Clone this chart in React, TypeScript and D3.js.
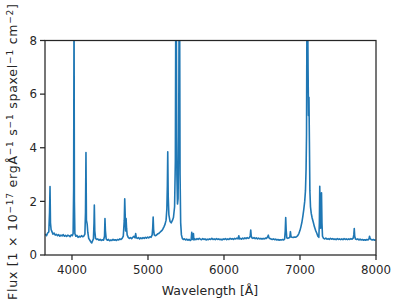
import * as d3 from "d3";
import React from "react";

// spectrum (wavelength in Å, flux in 1e-17 units)
const wavelength = [
  3650, 3665, 3680, 3695, 3705, 3711, 3717, 3725, 3735, 3750, 3765, 3780, 3795, 3810, 3825, 3840, 3855, 3870, 3885, 3900,
  3915, 3930, 3945, 3960, 3975, 3990, 4005, 4015, 4022, 4027, 4032, 4038, 4050, 4065, 4080, 4095, 4110, 4125, 4140, 4155,
  4170, 4178, 4184, 4190, 4200, 4208, 4220, 4235, 4250, 4260, 4270, 4282, 4290, 4294, 4300, 4310, 4325, 4340, 4355, 4370,
  4385, 4400, 4415, 4428, 4434, 4440, 4450, 4465, 4480, 4495, 4510, 4525, 4540, 4555, 4570, 4585, 4600, 4615, 4630, 4645,
  4660, 4675, 4688, 4694, 4700, 4706, 4712, 4718, 4726, 4740, 4755, 4770, 4785, 4800, 4815, 4830, 4838, 4846, 4860, 4875,
  4890, 4905, 4920, 4935, 4950, 4965, 4980, 4995, 5010, 5025, 5040, 5055, 5062, 5068, 5074, 5082, 5095, 5110, 5125, 5140,
  5155, 5170, 5185, 5198, 5210, 5225, 5238, 5248, 5255, 5260, 5266, 5275, 5290, 5305, 5320, 5335, 5350, 5360, 5366, 5372,
  5380, 5388, 5396, 5404, 5410, 5416, 5422, 5430, 5440, 5452, 5465, 5480, 5495, 5510, 5525, 5540, 5555, 5568, 5576, 5582,
  5590, 5598, 5604, 5615, 5630, 5645, 5660, 5675, 5690, 5705, 5720, 5735, 5750, 5765, 5780, 5795, 5810, 5825, 5840, 5855,
  5870, 5885, 5900, 5915, 5930, 5945, 5960, 5975, 5990, 6005, 6020, 6035, 6050, 6065, 6080, 6095, 6110, 6125, 6140, 6155,
  6170, 6185, 6195, 6203, 6215, 6230, 6245, 6260, 6275, 6290, 6305, 6320, 6335, 6345, 6352, 6358, 6366, 6380, 6395, 6410,
  6425, 6440, 6455, 6470, 6485, 6500, 6515, 6530, 6545, 6560, 6575, 6583, 6592, 6605, 6620, 6635, 6650, 6665, 6680, 6695,
  6710, 6725, 6740, 6755, 6770, 6785, 6798, 6806, 6812, 6818, 6826, 6840, 6855, 6866, 6874, 6882, 6895, 6910, 6925, 6940,
  6955, 6970, 6985, 7000, 7012, 7025, 7038, 7050, 7062, 7072, 7080, 7086, 7092, 7100, 7106, 7112, 7118, 7124, 7130, 7138,
  7148, 7160, 7175, 7190, 7205, 7220, 7235, 7248, 7255, 7260, 7266, 7272, 7278, 7283, 7289, 7296, 7310, 7325, 7340, 7355,
  7370, 7385, 7400, 7415, 7430, 7445, 7460, 7475, 7490, 7505, 7520, 7535, 7550, 7565, 7580, 7595, 7610, 7625, 7640, 7655,
  7670, 7685, 7700, 7708, 7714, 7720, 7730, 7745, 7760, 7775, 7790, 7805, 7820, 7835, 7850, 7865, 7880, 7895, 7908, 7915,
  7922, 7935, 7950, 7965, 7980, 7995,
];

const flux = [
  0.78, 0.72, 0.82, 0.86, 1.6, 2.55, 1.2, 0.95, 0.88, 0.78, 0.82, 0.74, 0.77, 0.72, 0.76, 0.7, 0.74, 0.71, 0.76, 0.7,
  0.73, 0.69, 0.74, 0.72, 0.68, 0.75, 0.72, 0.8, 2.5, 9.5, 2.0, 0.8, 0.7, 0.73, 0.66, 0.7, 0.67, 0.72, 0.68, 0.7,
  0.78, 1.6, 3.82, 1.3, 1.15, 0.85, 0.62, 0.55, 0.48, 0.45, 0.52, 0.6, 1.2, 1.86, 0.9, 0.62, 0.58, 0.6, 0.55, 0.58,
  0.54, 0.57, 0.55, 0.7, 1.36, 0.9, 0.6, 0.55, 0.58, 0.53, 0.56, 0.54, 0.58, 0.55, 0.57, 0.54, 0.58, 0.56, 0.6, 0.58,
  0.62, 0.7, 1.3, 2.1, 1.5, 0.9, 1.36, 1.0, 0.75, 0.66, 0.62, 0.65, 0.61, 0.66, 0.7, 0.64, 0.8, 0.65, 0.62, 0.65,
  0.6, 0.64, 0.61, 0.65, 0.62, 0.66, 0.63, 0.67, 0.64, 0.68, 0.66, 0.75, 1.0, 1.42, 0.95, 0.75, 0.72, 0.74, 0.78, 0.8,
  0.84, 0.88, 0.92, 0.98, 1.05, 1.15, 1.3, 1.7, 2.6, 3.85, 2.2, 1.5, 1.25, 1.2, 1.28, 1.4, 1.8, 3.5, 9.5, 9.5,
  3.0, 1.9, 2.1, 4.5, 9.5, 9.5, 3.0, 1.2, 0.75, 0.62, 0.58, 0.6, 0.56, 0.59, 0.55, 0.58, 0.54, 0.57, 0.85, 0.58,
  0.6, 0.8, 0.56, 0.6, 0.57, 0.61, 0.58, 0.62, 0.59, 0.57, 0.61, 0.58, 0.6, 0.56, 0.59, 0.57, 0.6, 0.58, 0.62, 0.58,
  0.6, 0.57, 0.61, 0.58, 0.6, 0.57, 0.59, 0.56, 0.6, 0.58, 0.61, 0.57, 0.6, 0.58, 0.62, 0.59, 0.61, 0.58, 0.62, 0.6,
  0.63, 0.6, 0.72, 0.6, 0.62, 0.59, 0.63, 0.6, 0.64, 0.61, 0.65, 0.62, 0.64, 0.72, 0.93, 0.72, 0.64, 0.62, 0.65, 0.61,
  0.64, 0.6, 0.63, 0.6, 0.62, 0.59, 0.62, 0.6, 0.63, 0.62, 0.68, 0.74, 0.64, 0.61, 0.6, 0.58, 0.6, 0.57, 0.59, 0.56,
  0.58, 0.55, 0.57, 0.56, 0.58, 0.56, 0.6, 0.9, 1.4, 0.95, 0.64, 0.62, 0.64, 0.66, 0.87, 0.68, 0.66, 0.65, 0.67, 0.66,
  0.68, 0.72, 0.8, 0.92, 1.05, 1.22, 1.45, 1.7, 2.0, 2.4, 3.2, 4.5, 9.5, 9.5, 7.0, 5.2, 5.88, 4.2, 2.4, 1.8,
  1.55, 1.38, 1.22, 1.05, 0.92, 0.82, 0.7, 0.66, 1.2, 2.56, 1.5, 1.0, 1.4, 2.32, 1.2, 0.7, 0.62, 0.6, 0.63, 0.59,
  0.61, 0.58, 0.62, 0.59, 0.61, 0.58, 0.6, 0.57, 0.61, 0.58, 0.6, 0.57, 0.6, 0.57, 0.61, 0.58, 0.6, 0.57, 0.6, 0.58,
  0.61, 0.59, 0.63, 0.75, 0.99, 0.7, 0.6, 0.58, 0.6, 0.56, 0.59, 0.56, 0.58, 0.55, 0.57, 0.55, 0.58, 0.56, 0.6, 0.7,
  0.62, 0.58, 0.56, 0.58, 0.55, 0.57,
];

const xTicks = [4000, 5000, 6000, 7000, 8000];
const yTicks = [0, 2, 4, 6, 8];

const W = 399;
const H = 306;
const left = 45;
const right = 376;
const top = 40.5;
const bottom = 255;
const ink = "#262626";
const font = "DejaVu Sans";

export default function App() {
  const x = d3.scaleLinear().domain([3645, 8000]).range([left, right]);
  const y = d3.scaleLinear().domain([0, 8]).range([bottom, top]);

  const pts = wavelength.map((w, i) => [w, flux[i]] as [number, number]);
  const line = d3
    .line<[number, number]>()
    .x((d) => x(d[0]))
    .y((d) => y(d[1]));

  const sup = (t: string) => (
    <tspan baselineShift="40%" fontSize={9}>
      {t}
    </tspan>
  );

  return (
    <svg width={W} height={H} style={{ position: "absolute", left: 0, top: 0 }}>
      <defs>
        <clipPath id="plot">
          <rect x={left} y={top} width={right - left} height={bottom - top} />
        </clipPath>
      </defs>
      <rect width={W} height={H} fill="white" />
      <path
        d={line(pts) || undefined}
        fill="none"
        stroke="#1f77b4"
        strokeWidth={1.6}
        strokeLinejoin="round"
        clipPath="url(#plot)"
      />
      <rect x={left} y={top} width={right - left} height={bottom - top} fill="none" stroke={ink} strokeWidth={1.25} />

      {xTicks.map((t) => (
        <g key={t}>
          <line x1={x(t)} x2={x(t)} y1={bottom} y2={bottom + 5} stroke={ink} strokeWidth={1.25} />
          <text x={x(t)} y={bottom + 19} textAnchor="middle" fontFamily={font} fontSize={11.8} fill={ink}>
            {t}
          </text>
        </g>
      ))}
      {yTicks.map((t) => (
        <g key={t}>
          <line x1={left - 5} x2={left} y1={y(t)} y2={y(t)} stroke={ink} strokeWidth={1.25} />
          <text x={left - 8} y={y(t)} dy="0.36em" textAnchor="end" fontFamily={font} fontSize={11.8} fill={ink}>
            {t}
          </text>
        </g>
      ))}

      <text x={210} y={295} textAnchor="middle" fontFamily={font} fontSize={12.5} fill={ink}>
        Wavelength [Å]
      </text>
      <text
        transform="translate(17,152) rotate(-90)"
        textAnchor="middle"
        fontFamily={font}
        fontSize={12.5}
        fill={ink}
        textLength={296}
        lengthAdjust="spacing"
      >
        Flux [1 × 10{sup("−17")} ergÅ{sup("−1")} s{sup("−1")} spaxel{sup("−1")} cm{sup("−2")}]
      </text>
    </svg>
  );
}
